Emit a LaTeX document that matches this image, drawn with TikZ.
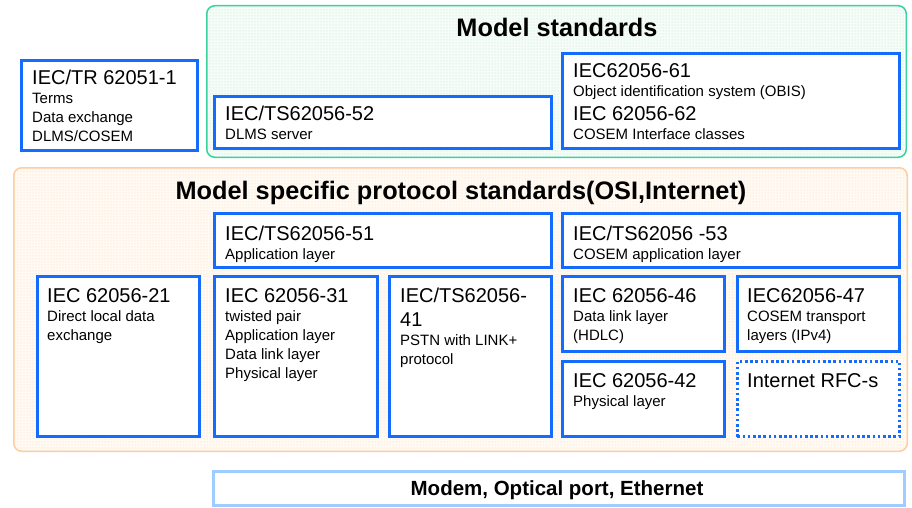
\documentclass[tikz,border=0pt]{standalone}
\usepackage{fontspec}
\setmainfont{Liberation Sans}
\usetikzlibrary{patterns,fit}
\definecolor{boxblue}{RGB}{20,108,255}
\definecolor{lightblue}{RGB}{160,205,255}
\definecolor{grnline}{RGB}{60,210,160}
\definecolor{grndot}{RGB}{185,232,200}
\definecolor{grnfill}{RGB}{246,252,248}
\definecolor{ornline}{RGB}{255,205,160}
\definecolor{orndot}{RGB}{255,212,175}
\definecolor{ornfill}{RGB}{255,250,244}
\newcommand\ttl[1]{\par\fontsize{20}{24}\selectfont #1\par}
\newcommand\sbt[1]{\par\fontsize{15}{19}\selectfont #1\par}
\newcommand\stk[1]{\vtop{\hsize=300pt\parindent=0pt\parskip=0pt\raggedright #1}}
\tikzset{
  container/.style={line width=1.5pt, rounded corners=8pt},
  stdbox/.style={draw=boxblue, line width=3pt, fill=white, inner sep=0pt},
  dotbox/.style={draw=boxblue, line width=2.6pt, dash pattern=on 2.6pt off 2.6pt, fill=white, inner sep=0pt},
  basebox/.style={draw=lightblue, line width=2.6pt, fill=white, inner sep=0pt},
  txt/.style={inner sep=0pt, anchor=base west, text=black},
  head/.style={inner sep=0pt, anchor=base, font=\bfseries\fontsize{25.3}{30}\selectfont},
}
\begin{document}
\begin{tikzpicture}[x=1pt,y=-1pt]
\useasboundingbox (0,0) rectangle (912,508);
% containers
\path[container, fill=grnfill] (206.75,5.75) rectangle (906.25,157.25);
\path[container, pattern=dots, pattern color=grndot] (206.75,5.75) rectangle (906.25,157.25);
\draw[container, draw=grnline] (206.75,5.75) rectangle (906.25,157.25);
\path[container, fill=ornfill] (13.75,167.75) rectangle (907.25,451.25);
\path[container, pattern=dots, pattern color=orndot] (13.75,167.75) rectangle (907.25,451.25);
\draw[container, draw=ornline] (13.75,167.75) rectangle (907.25,451.25);
% headings
\node[head] (hmodel) at (557,37) {Model standards};
\node[head] (hproto) at (461,199) {Model specific protocol standards(OSI,Internet)};
% boxes
\node[stdbox, fit={(21.5,60.5) (197.5,150.5)}] (tr) {};
\node[stdbox, fit={(214.5,96.5) (551.5,148.5)}] (b52) {};
\node[stdbox, fit={(562.5,53.5) (899.5,148.5)}] (b61) {};
\node[stdbox, fit={(214.5,213.5) (551.5,267.5)}] (b51) {};
\node[stdbox, fit={(562.5,213.5) (899.5,267.5)}] (b53) {};
\node[stdbox, fit={(37.5,276.5) (199.5,436.5)}] (b21) {};
\node[stdbox, fit={(214.5,276.5) (377.5,436.5)}] (b31) {};
\node[stdbox, fit={(389.5,276.5) (551.5,436.5)}] (b41) {};
\node[stdbox, fit={(562.5,276.5) (724.5,351.5)}] (b46) {};
\node[stdbox, fit={(737.5,276.5) (899.5,351.5)}] (b47) {};
\node[stdbox, fit={(562.5,361.5) (724.5,436.5)}] (b42) {};
\node[dotbox, fit={(737.3,361.3) (899.7,436.7)}] (rfc) {};
\node[basebox, fit={(213.3,471.3) (904.7,505.7)}] (phys) {};
% texts
\node[txt] (trt) at (32,85) {\stk{\ttl{IEC/TR 62051-1}\sbt{Terms}\sbt{Data exchange}\sbt{DLMS/COSEM}}};
\node[txt] (b52t) at (225,121) {\stk{\ttl{IEC/TS62056-52}\sbt{DLMS server}}};
\node[txt] (b61t) at (573,78) {\stk{\ttl{IEC62056-61}\sbt{Object identification system (OBIS)}\ttl{IEC 62056-62}\sbt{COSEM Interface classes}}};
\node[txt] (b51t) at (225,240) {\stk{\ttl{IEC/TS62056-51}\sbt{Application layer}}};
\node[txt] (b53t) at (573,240) {\stk{\ttl{IEC/TS62056 -53}\sbt{COSEM application layer}}};
\node[txt] (b21t) at (47,302) {\stk{\ttl{IEC 62056-21}\sbt{Direct local data}\sbt{exchange}}};
\node[txt] (b31t) at (225,302) {\stk{\ttl{IEC 62056-31}\sbt{twisted pair}\sbt{Application layer}\sbt{Data link layer}\sbt{Physical layer}}};
\node[txt] (b41t) at (400,302) {\stk{\ttl{IEC/TS62056-}\ttl{41}\sbt{PSTN with LINK+}\sbt{protocol}}};
\node[txt] (b46t) at (573,302) {\stk{\ttl{IEC 62056-46}\sbt{Data link layer}\sbt{(HDLC)}}};
\node[txt] (b47t) at (747,302) {\stk{\ttl{IEC62056-47}\sbt{COSEM transport}\sbt{layers (IPv4)}}};
\node[txt] (b42t) at (573,387) {\stk{\ttl{IEC 62056-42}\sbt{Physical layer}}};
\node[txt] (rfct) at (747,387) {\stk{\ttl{Internet RFC-s}}};
\node[inner sep=0pt, anchor=base, font=\bfseries\fontsize{20.5}{24}\selectfont] (physt) at (557,495) {Modem, Optical port, Ethernet};
\end{tikzpicture}
\end{document}
